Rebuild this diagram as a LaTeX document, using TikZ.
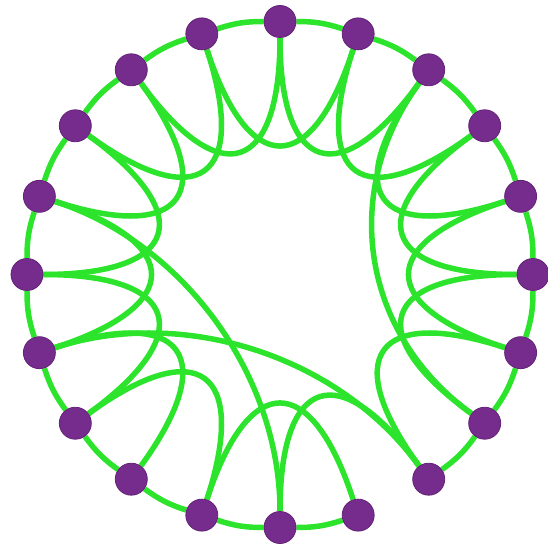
\documentclass[tikz,border=0pt]{standalone}
\usetikzlibrary{calc}
\definecolor{edgegreen}{RGB}{44,228,44}
\definecolor{nodepurple}{RGB}{118,44,140}
\definecolor{nodeedge}{RGB}{98,34,118}
\pgfdeclarelayer{bg}
\pgfsetlayers{bg,main}
\begin{document}
\begin{tikzpicture}[x=1pt,y=1pt,
  vertex/.style={circle,fill=nodepurple,draw=nodeedge,line width=0.8pt,minimum size=32pt,inner sep=0pt},
  link/.style={draw=edgegreen,line width=5.5pt},
]
\useasboundingbox (-280,-274.5) rectangle (267,274.5);
\coordinate (c) at (0,0);
\foreach \i in {0,...,19} \node[vertex] (n\i) at ({90-18*\i}:253pt) {};
\begin{pgfonlayer}{bg}
\foreach \i in {0,...,19} {
  \pgfmathtruncatemacro\j{mod(\i+1,20)}
  \ifnum\i=8 \else \draw[link] (n\i) to[bend left=9] (n\j); \fi
}
\foreach \a/\b in {0/2,1/3,2/4,3/5,4/6,5/7,6/8,8/10,9/11,11/13,12/14,13/15,14/16,15/17,16/18,17/19,18/0,19/1,2/7,14/8,16/10} {
  \draw[link] (n\a) .. controls ($(n\a.center)!0.6!(c)$) and ($(n\b.center)!0.6!(c)$) .. (n\b);
}
\end{pgfonlayer}
\end{tikzpicture}
\end{document}
